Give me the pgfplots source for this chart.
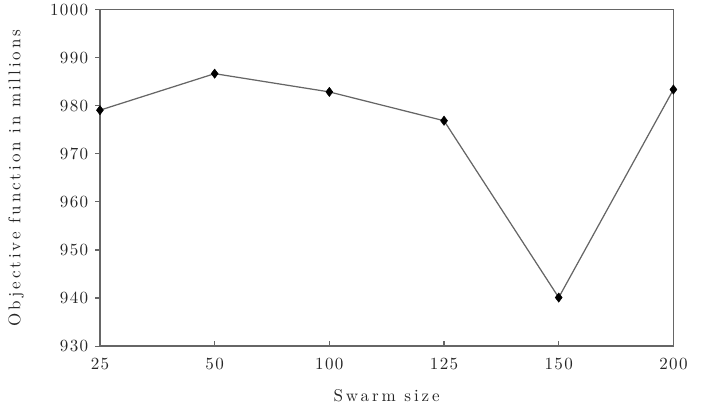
\documentclass[border=0pt]{standalone}
\usepackage{fontspec}
\setmainfont{Latin Modern Roman}[LetterSpace=8]
\newfontfamily\labfont{Latin Modern Roman}[LetterSpace=17]
\usepackage{pgfplots}
\pgfplotsset{compat=1.18}
\begin{document}
\begin{tikzpicture}
\begin{axis}[
  scale only axis,
  width=370pt, height=217pt,
  xmin=0, xmax=5, ymin=930, ymax=1000,
  xtick={0,1,2,3,4,5},
  xticklabels={25,50,100,125,150,200},
  ytick={930,940,...,1000},
  /pgf/number format/assume math mode=true,
  /pgf/number format/1000 sep={},
  tick pos=left,
  xtick align=inside, ytick align=outside,
  major tick length=3pt,
  axis line style={draw=black!60, line width=0.9pt},
  tick style={draw=black!60, line width=0.7pt},
  tick label style={font=\fontsize{11}{13}\selectfont, text=black!85},
  xticklabel style={yshift=-4pt},
  yticklabel style={xshift=-1pt},
  xlabel={Swarm size},
  ylabel={Objective function in millions},
  label style={text=black!85, font=\labfont\fontsize{11}{13}\selectfont},
  xlabel style={yshift=-6pt},
  ylabel style={yshift=10pt},
  clip=false,
]
\addplot[draw=black!60, line width=0.8pt, mark=diamond*, mark size=3pt,
  mark options={fill=black, draw=black, line width=0.3pt}]
  coordinates {(0,979.1) (1,986.7) (2,982.9) (3,976.9) (4,940.1) (5,983.4)};
\end{axis}
\pgfresetboundingbox
\path[use as bounding box] (current axis.south west) ++(-64.5pt,-38pt) rectangle ++(452.3pt,261.3pt);
\end{tikzpicture}
\end{document}
